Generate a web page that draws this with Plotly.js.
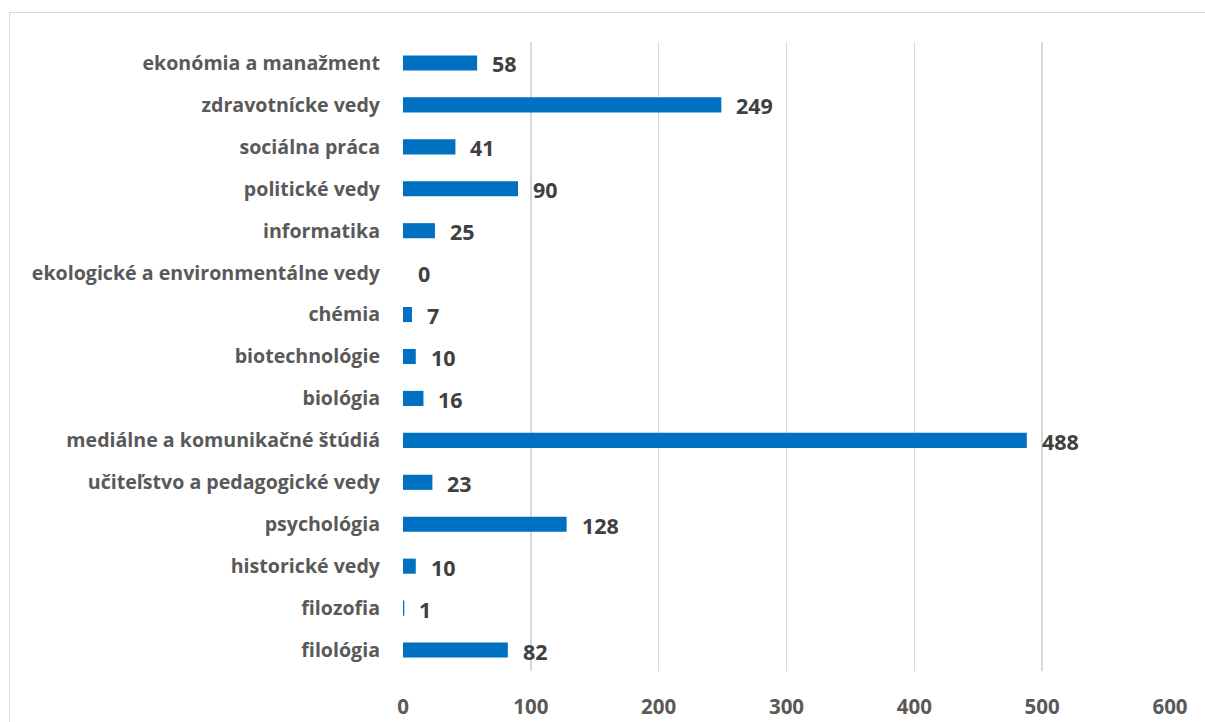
<!DOCTYPE html>
<html>
<head>
<meta charset="utf-8">
<script src="https://cdn.plot.ly/plotly-3.0.1.min.js"></script>
<style>
html,body{margin:0;padding:0;background:#fff;}
#chart{width:1205px;height:722px;}
#frame{position:absolute;left:9px;top:12px;width:1200px;height:720px;border:1.5px solid #D9D9D9;pointer-events:none;box-sizing:border-box;}
</style>
</head>
<body>
<div id="chart"></div>
<div id="frame"></div>
<script>
const categories = [
  "filológia",
  "filozofia",
  "historické vedy",
  "psychológia",
  "učiteľstvo a pedagogické vedy",
  "mediálne a komunikačné štúdiá",
  "biológia",
  "biotechnológie",
  "chémia",
  "ekologické a environmentálne vedy",
  "informatika",
  "politické vedy",
  "sociálna práca",
  "zdravotnícke vedy",
  "ekonómia a manažment"
];
const values = [82, 1, 10, 128, 23, 488, 16, 10, 7, 0, 25, 90, 41, 249, 58];
const xTicks = [0, 100, 200, 300, 400, 500, 600];

const font = "'Open Sans', 'Noto Sans', sans-serif";

const trace = {
  type: 'bar',
  orientation: 'h',
  y: categories,
  x: values,
  marker: {color: '#0070C0', line: {width: 0}},
  hoverinfo: 'none'
};

const annotations = categories.map((c, i) => ({
  x: values[i], y: c, xref: 'x', yref: 'y',
  text: String(values[i]),
  showarrow: false, xanchor: 'left', xshift: 13, yshift: -1,
  font: {family: font, size: 21.5, color: '#404040', weight: 'bold'}
}));

const layout = {
  width: 1205, height: 722,
  margin: {l: 403, r: 35, t: 42, b: 51},
  paper_bgcolor: '#fff', plot_bgcolor: '#fff',
  showlegend: false,
  bargap: 0.64,
  xaxis: {
    range: [0, 600],
    tickvals: xTicks,
    ticktext: xTicks.map(String),
    showgrid: true, gridcolor: '#D9D9D9', gridwidth: 1.5,
    zeroline: false, showline: false,
    ticks: '', ticklabelstandoff: 21,
    tickfont: {family: font, size: 20.5, color: '#595959', weight: 'bold'},
    fixedrange: true
  },
  yaxis: {
    type: 'category',
    categoryarray: categories,
    range: [-0.5, 14.5],
    showgrid: false, zeroline: false, showline: false,
    ticks: '', ticklabelstandoff: 22,
    tickfont: {family: font, size: 19.6, color: '#595959', weight: 'bold'},
    fixedrange: true
  },
  annotations: annotations
};

Plotly.newPlot('chart', [trace], layout, {displayModeBar: false, staticPlot: true});
</script>
</body>
</html>
